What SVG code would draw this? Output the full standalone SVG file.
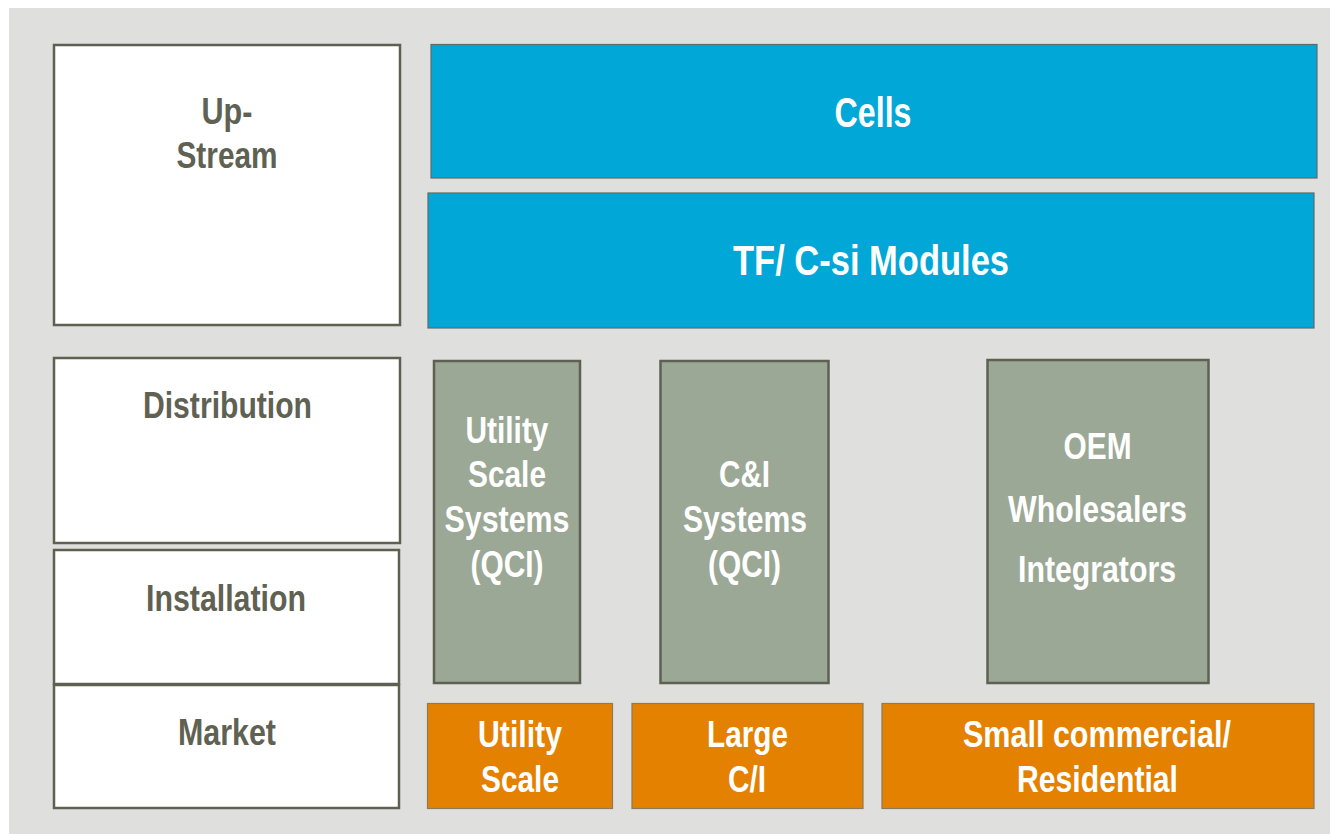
<svg xmlns="http://www.w3.org/2000/svg" width="1330" height="834" viewBox="0 0 1330 834">
<style>
.lbl{fill:#fff;stroke:#5e6052;stroke-width:2.5}
.sys{fill:#9ca896;stroke:#5e6052;stroke-width:2.5}
.blue{fill:#00a7d7;stroke:#5f6b6b;stroke-width:1.2}
.org{fill:#e48100;stroke:#8d7a5a;stroke-width:1.2}
text{font-family:"Liberation Sans",Arial,sans-serif;font-weight:bold;text-anchor:middle}
.dk{fill:#5f6152;font-size:36px}
.wt{fill:#fff;font-size:36px}
.big{fill:#fff;font-size:42px}
</style>
<rect x="0" y="0" width="1330" height="834" fill="#fff"/>
<rect x="9" y="8" width="1321" height="826" fill="#dfdfdd"/>
<g id="upstream">
<rect class="lbl" x="54" y="45" width="346" height="280"/>
<text class="dk" x="227" y="124" textLength="51" lengthAdjust="spacingAndGlyphs">Up-</text>
<text class="dk" x="227" y="168" textLength="101" lengthAdjust="spacingAndGlyphs">Stream</text>
</g>
<g id="distribution">
<rect class="lbl" x="54" y="358" width="346" height="185"/>
<text class="dk" x="227.5" y="418" textLength="169" lengthAdjust="spacingAndGlyphs">Distribution</text>
</g>
<g id="installation">
<rect class="lbl" x="54" y="550" width="345" height="134"/>
<text class="dk" x="226" y="611" textLength="160" lengthAdjust="spacingAndGlyphs">Installation</text>
</g>
<g id="market">
<rect class="lbl" x="54" y="685" width="345" height="123"/>
<text class="dk" x="227" y="745" textLength="98" lengthAdjust="spacingAndGlyphs">Market</text>
</g>
<g id="cells">
<rect class="blue" x="431" y="44.5" width="886" height="133.5"/>
<text class="big" x="873" y="127" textLength="77" lengthAdjust="spacingAndGlyphs">Cells</text>
</g>
<g id="modules">
<rect class="blue" x="428" y="193" width="886" height="135"/>
<text class="big" x="871" y="275" textLength="276" lengthAdjust="spacingAndGlyphs">TF/ C-si Modules</text>
</g>
<g id="utility-systems">
<rect class="sys" x="434" y="361" width="146" height="322"/>
<text class="wt" x="507" y="443" textLength="83" lengthAdjust="spacingAndGlyphs">Utility</text>
<text class="wt" x="507" y="487" textLength="78" lengthAdjust="spacingAndGlyphs">Scale</text>
<text class="wt" x="507" y="532" textLength="125" lengthAdjust="spacingAndGlyphs">Systems</text>
<text class="wt" x="507" y="577" textLength="73" lengthAdjust="spacingAndGlyphs">(QCI)</text>
</g>
<g id="ci-systems">
<rect class="sys" x="660.5" y="361" width="168" height="322"/>
<text class="wt" x="744.5" y="487" textLength="51" lengthAdjust="spacingAndGlyphs">C&amp;I</text>
<text class="wt" x="745" y="532" textLength="124" lengthAdjust="spacingAndGlyphs">Systems</text>
<text class="wt" x="744.5" y="577" textLength="73" lengthAdjust="spacingAndGlyphs">(QCI)</text>
</g>
<g id="oem">
<rect class="sys" x="987.5" y="360" width="221" height="323"/>
<text class="wt" x="1097.5" y="459" textLength="68" lengthAdjust="spacingAndGlyphs">OEM</text>
<text class="wt" x="1097.5" y="522" textLength="179" lengthAdjust="spacingAndGlyphs">Wholesalers</text>
<text class="wt" x="1097" y="582" textLength="158" lengthAdjust="spacingAndGlyphs">Integrators</text>
</g>
<g id="utility-scale">
<rect class="org" x="427.5" y="703.5" width="185" height="105"/>
<text class="wt" x="520" y="747" textLength="84" lengthAdjust="spacingAndGlyphs">Utility</text>
<text class="wt" x="520" y="792" textLength="78" lengthAdjust="spacingAndGlyphs">Scale</text>
</g>
<g id="large-ci">
<rect class="org" x="632" y="703.5" width="231" height="105"/>
<text class="wt" x="747.5" y="747" textLength="81" lengthAdjust="spacingAndGlyphs">Large</text>
<text class="wt" x="747" y="792" textLength="38" lengthAdjust="spacingAndGlyphs">C/I</text>
</g>
<g id="small-commercial">
<rect class="org" x="882" y="703.5" width="432" height="105"/>
<text class="wt" x="1097" y="747" textLength="268" lengthAdjust="spacingAndGlyphs">Small commercial/</text>
<text class="wt" x="1097.5" y="792" textLength="161" lengthAdjust="spacingAndGlyphs">Residential</text>
</g>
<g id="connectors"/>
</svg>
